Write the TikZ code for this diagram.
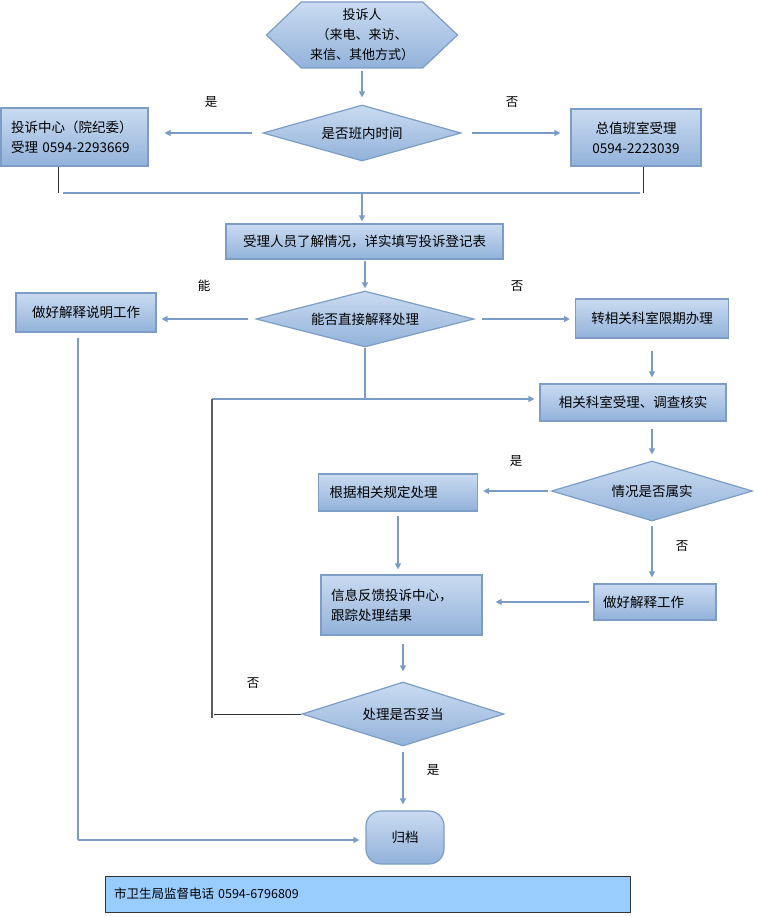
\documentclass[tikz,border=0pt]{standalone}
\usepackage{fontspec}
\setmainfont{Noto Sans CJK SC}
\usetikzlibrary{shapes.geometric,shapes.symbols,arrows.meta,calc}
\definecolor{edgeblue}{HTML}{7C9DC6}
\definecolor{topblue}{HTML}{CADBF1}
\definecolor{botblue}{HTML}{92B2DA}
\definecolor{arrowblue}{HTML}{7A9CC6}
\definecolor{notefill}{HTML}{99CCFF}
\definecolor{darkline}{HTML}{333333}
\tikzset{
  flowbox/.style={draw=edgeblue, line width=1.2pt, top color=topblue, bottom color=botblue,
    inner sep=2pt, font=\fontsize{13.5}{20}\selectfont},
  decide/.style={flowbox, diamond, shape aspect=3.5, inner sep=0pt},
  flowarrow/.style={draw=arrowblue, line width=1.4pt, -{Triangle[width=6pt,length=6pt]}},
  flowline/.style={draw=arrowblue, line width=1.4pt},
  blackline/.style={draw=darkline, line width=1pt},
  lbl/.style={font=\fontsize{12.5}{14}\selectfont, inner sep=0pt},
}
\begin{document}
\begin{tikzpicture}[x=1pt,y=-1pt]
\useasboundingbox (0,0) rectangle (758,917);
% nodes
\node[flowbox, signal, signal to=west and east, signal pointer angle=87,
  minimum width=191pt, minimum height=66pt, align=center, inner sep=0pt,
  font=\fontsize{13}{20}\selectfont] (hex) at (362,35) {投诉人\\（来电、来访、\\来信、其他方式）};
\node[decide, minimum width=198pt, minimum height=56pt] (d1) at (362,133) {是否班内时间};
\node[flowbox, minimum width=147pt, minimum height=58pt, text width=127pt, align=left] (lb1) at (74.5,137) {投诉中心（院纪委）\\受理 0594-2293669};
\node[flowbox, minimum width=130pt, minimum height=57pt, align=center] (rb1) at (636,137.5) {总值班室受理\\0594-2223039};
\node[flowbox, minimum width=277pt, minimum height=35pt] (b2) at (364.5,241.5) {受理人员了解情况，详实填写投诉登记表};
\node[decide, minimum width=218pt, minimum height=56pt] (d2) at (365,319) {能否直接解释处理};
\node[flowbox, minimum width=140pt, minimum height=39pt] (lb2) at (86,312.5) {做好解释说明工作};
\node[flowbox, minimum width=153pt, minimum height=39pt] (rb2) at (652,318.5) {转相关科室限期办理};
\node[flowbox, minimum width=186pt, minimum height=37pt] (b3) at (633,402.5) {相关科室受理、调查核实};
\node[decide, minimum width=201pt, minimum height=60pt] (d3) at (652,491) {情况是否属实};
\node[flowbox, minimum width=159pt, minimum height=37pt, text width=137pt, align=left] (b4) at (398,492.5) {根据相关规定处理};
\node[flowbox, minimum width=161pt, minimum height=60pt, text width=141pt, align=left] (b5) at (401.5,605) {信息反馈投诉中心，\\跟踪处理结果};
\node[flowbox, minimum width=122pt, minimum height=36pt, text width=104pt, align=left] (b6) at (655,602) {做好解释工作};
\node[decide, minimum width=202pt, minimum height=64pt] (d4) at (403,714) {处理是否妥当};
\node[flowbox, rounded corners=15pt, minimum width=78pt, minimum height=53pt] (arch) at (405,837.5) {归档};
\node[draw=darkline, line width=1pt, fill=notefill, minimum width=525pt, minimum height=36pt,
  text width=507pt, align=left, font=\fontsize{12.5}{14}\selectfont] (note) at (367.5,894) {市卫生局监督电话 0594-6796809};
% labels
\node[lbl] (l1) at (211,102) {是};
\node[lbl] (l2) at (512,102) {否};
\node[lbl] (l3) at (204,286) {能};
\node[lbl] (l4) at (517,286) {否};
\node[lbl] (l5) at (516,461) {是};
\node[lbl] (l6) at (682,546) {否};
\node[lbl] (l7) at (253,683) {否};
\node[lbl] (l8) at (433,770) {是};
% coordinates
\coordinate (jl) at (63,193);
\coordinate (jr) at (640,193);
\coordinate (jm) at (362,193);
\coordinate (kl) at (58,193);
\coordinate (kr) at (643,193);
\coordinate (j2) at (365,399);
\coordinate (j2l) at (212,399);
\coordinate (j4) at (212,718);
\coordinate (j4e) at (214,714);
\coordinate (m1) at (78,338);
\coordinate (m2) at (78,840);
% connectors
\draw[flowarrow, shorten <=2pt, shorten >=7pt] (hex.south) -- (d1.north);
\draw[flowarrow, shorten <=10pt, shorten >=16pt] (d1.west) -- (d1.west -| lb1.east);
\draw[flowarrow, shorten <=10pt, shorten >=10pt] (d1.east) -- (d1.east -| rb1.west);
\draw[blackline] (lb1.south -| kl) -- (kl);
\draw[blackline] (rb1.south -| kr) -- (kr);
\draw[flowline] (jl) -- (jr);
\draw[flowarrow, shorten >=2pt] (jm) -- (jm |- b2.north);
\draw[flowarrow, shorten <=1pt, shorten >=2pt] (d2.north |- b2.south) -- (d2.north);
\draw[flowarrow, shorten <=7pt, shorten >=5pt] (d2.west) -- (d2.west -| lb2.east);
\draw[flowarrow, shorten <=7pt, shorten >=5pt] (d2.east) -- (d2.east -| rb2.west);
\draw[flowarrow, shorten <=12pt, shorten >=6pt] (rb2.south) -- (rb2.south |- b3.north);
\draw[flowline] (d2.south) -- (j2);
\draw[flowarrow, shorten >=5pt] (j2l) -- (j2l -| b3.west);
\draw[draw=darkline!80, line width=1.3pt] (j2l) -- (j4);
\draw[blackline] (d4.west) -- (d4.west -| j4e);
\draw[flowline] (m1) -- (m2);
\draw[flowarrow, shorten >=6pt] (m2) -- (m2 -| arch.west);
\draw[flowarrow, shorten <=7pt, shorten >=6pt] (d3.north |- b3.south) -- (d3.north);
\draw[flowarrow, shorten <=3pt, shorten >=5pt] (d3.west) -- (d3.west -| b4.east);
\draw[flowarrow, shorten <=4pt, shorten >=5pt] (b4.south) -- (b4.south |- b5.north);
\draw[flowarrow, shorten <=4pt, shorten >=6pt] (d3.south) -- (d3.south |- b6.north);
\draw[flowarrow, shorten <=4pt, shorten >=13pt] (b6.west) -- (b6.west -| b5.east);
\draw[flowarrow, shorten <=8pt, shorten >=10pt] (d4.north |- b5.south) -- (d4.north);
\draw[flowarrow, shorten <=5pt, shorten >=6pt] (d4.south) -- (d4.south |- arch.north);
\end{tikzpicture}
\end{document}
